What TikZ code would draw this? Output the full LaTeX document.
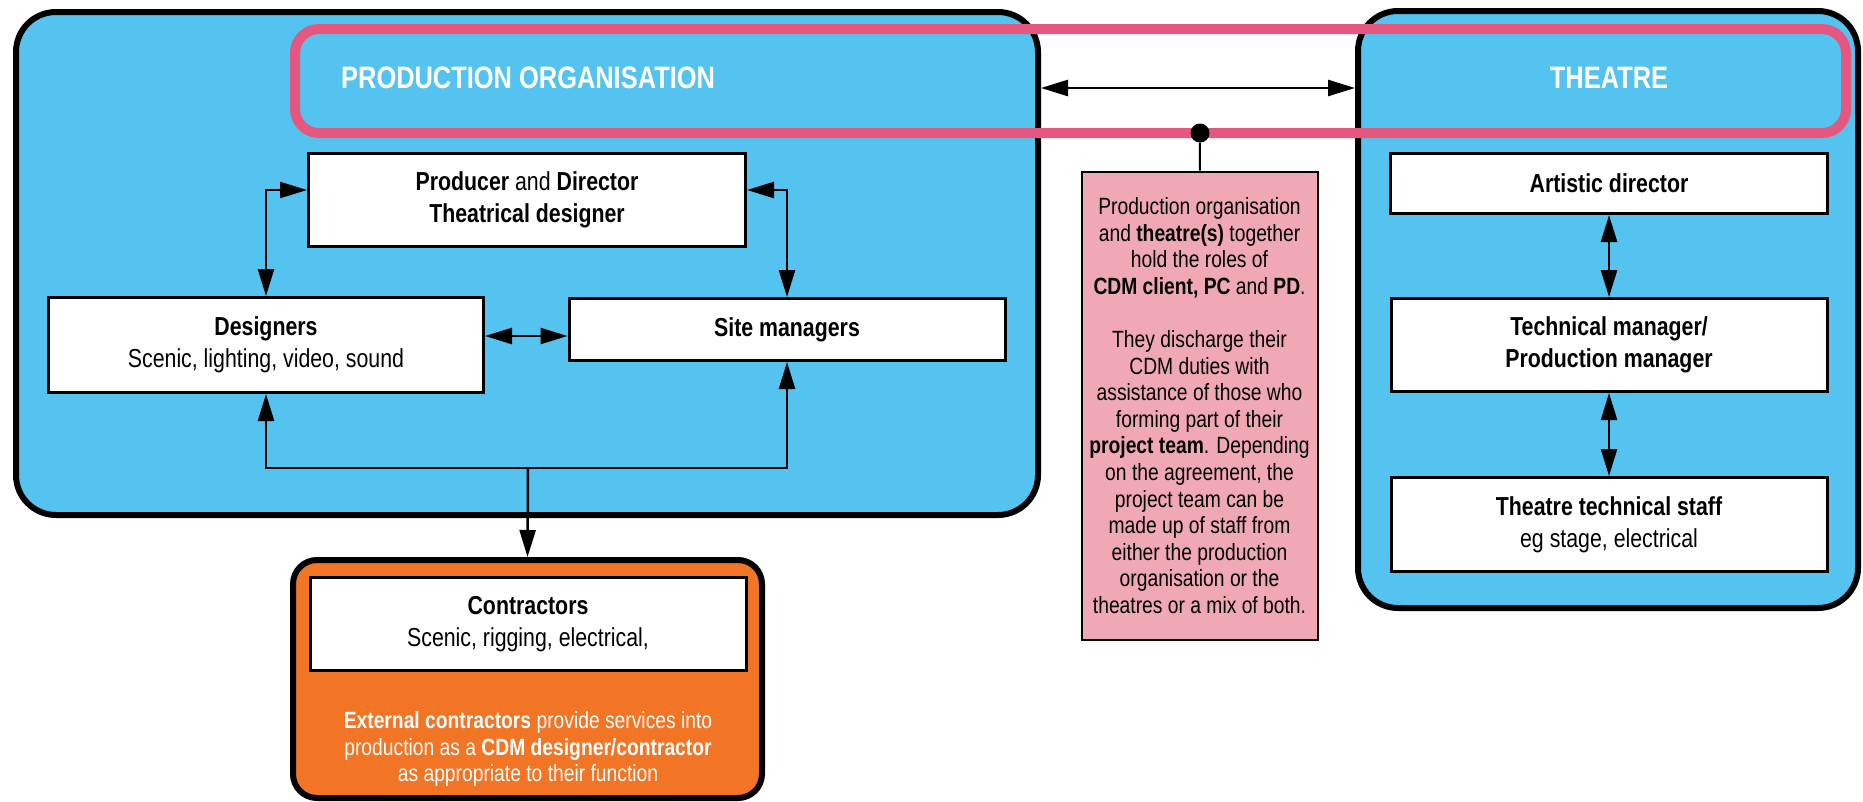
\documentclass[tikz,border=0pt]{standalone}
\usepackage{fontspec}
\setmainfont{Liberation Sans}[FakeStretch=0.82]
\usetikzlibrary{arrows.meta}
\definecolor{stageBlue}{RGB}{84,195,239}
\definecolor{teamPink}{RGB}{229,87,127}
\definecolor{notePink}{RGB}{241,168,181}
\definecolor{contractOrange}{RGB}{241,117,37}
\newcommand{\boxText}{\fontsize{26}{32}\selectfont}
\newcommand{\smallText}{\fontsize{23.5}{26.6}\selectfont}
\newcommand{\headText}{\fontsize{31}{37}\selectfont\bfseries}
\tikzset{
	group/.style={draw=black, line width=6pt, fill=stageBlue, rounded corners=40pt},
	ring/.style={draw=teamPink, line width=10pt, rounded corners=24pt},
	role/.style={draw=black, line width=3pt, fill=white, align=center, inner sep=0pt, font=\boxText},
	heading/.style={text=white, inner sep=0pt, font=\headText},
	link/.style={line width=2.5pt, {Triangle[length=27pt, width=16pt]}-{Triangle[length=27pt, width=16pt]}},
	feed/.style={line width=2.5pt, -{Triangle[length=27pt, width=16pt]}},
}
\newcommand{\roleBox}[7][]{
	\node[role, minimum width=#4, minimum height=#5, #1] (#6) at (#2, #3) {#7};
}

\begin{document}
\begin{tikzpicture}[x=1pt, y=-1pt]
	\useasboundingbox[fill=white] (0,0) rectangle (1863,801);

	\node[group, minimum width=1022, minimum height=503] (prodorg) at (527, 263.5) {};
	\node[group, minimum width=500, minimum height=597] (theatre) at (1608, 309.5) {};
	\node[ring, minimum width=1551, minimum height=104] (team) at (1070.5, 81) {};

	\node[heading, anchor=base west] (prodTitle) at (341, 88) {PRODUCTION ORGANISATION};
	\node[heading, anchor=base] (theatreTitle) at (1609, 88) {THEATRE};

	\roleBox{527}{200}{437}{93}{producer}{\textbf{Producer} and \textbf{Director}\\\textbf{Theatrical designer}};
	\roleBox{266}{345}{435}{95}{designers}{\textbf{Designers}\\Scenic, lighting, video, sound};
	\roleBox{787}{329.5}{436}{62}{site}{\textbf{Site managers}};
	\roleBox{1609}{183.5}{437}{60}{artistic}{\textbf{Artistic director}};
	\roleBox{1609}{345}{436}{93}{tech}{\textbf{Technical manager/}\\\textbf{Production manager}};
	\roleBox{1609}{524.5}{436}{94}{staff}{\textbf{Theatre technical staff}\\eg stage, electrical};

	\draw[link] ([yshift=10pt]producer.west) -| (designers.north);
	\draw[link] ([yshift=10pt]producer.east) -| (site.north);
	\draw[link] (designers.east |- 0,336) -- (site.west |- 0,336);
	\coordinate (bus) at (528, 468);
	\draw[link] (designers.south) -- (designers.south |- bus) -- (site.south |- bus) -- (site.south);
	\draw[link] (prodorg.east |- 0,88) -- (theatre.west |- 0,88);
	\draw[link] (artistic) -- (tech);
	\draw[link] (tech) -- (staff);

	\node[circle, fill=black, inner sep=0pt, minimum size=19] (pin) at (1200, 133) {};
	\node[draw=black, line width=2pt, fill=notePink, align=center, inner sep=0pt,
		minimum width=236, minimum height=468, font=\smallText] (note) at (1199.5, 405.5) {
		Production organisation\\and \textbf{theatre(s)} together\\hold the roles of\\
		\textbf{CDM client, PC} and \textbf{PD}.\\[26.6pt]
		They discharge their\\CDM duties with\\assistance of those who\\forming part of their\\
		\textbf{project team}. Depending\\on the agreement, the\\project team can be\\
		made up of staff from\\either the production\\organisation or the\\theatres or a mix of both.};
	\draw[line width=2pt] (pin) -- (note);

	\node[group, fill=contractOrange, rounded corners=24pt, minimum width=469, minimum height=238] (extern) at (527.5, 679) {};
	\draw[feed] (bus) -- (extern.north);
	\roleBox{528}{624}{436}{93}{contractors}{\textbf{Contractors}\\Scenic, rigging, electrical,};
	\node[text=white, align=center, inner sep=0pt, font=\smallText] (externNote) at (528, 749) {
		\textbf{External contractors} provide services into\\
		production as a \textbf{CDM designer/contractor}\\
		as appropriate to their function};
\end{tikzpicture}
\end{document}
